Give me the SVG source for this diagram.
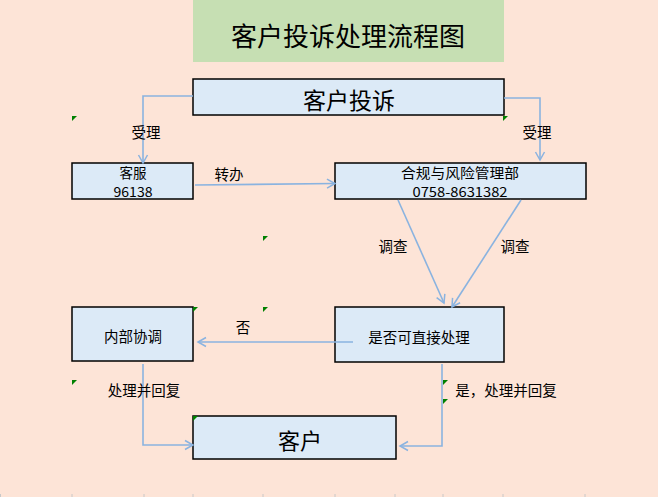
<svg xmlns="http://www.w3.org/2000/svg" width="658" height="497" viewBox="0 0 658 497">
<defs>
<style>
.box{fill:#DCEAF7;stroke:#000;stroke-width:1.5}
.t{font-family:"Noto Sans CJK SC","Liberation Sans",sans-serif;fill:#000;text-anchor:middle;dominant-baseline:central}
.c{fill:none;stroke:#8AB3E0;stroke-width:1.6}
.g{fill:#008000}
.tick{stroke:#C8C8C8;stroke-width:1}
</style>
<marker id="ar" markerUnits="userSpaceOnUse" markerWidth="12" markerHeight="12" viewBox="0 0 12 12" refX="10" refY="6" orient="auto">
<path d="M2,1.5 L10,6 L2,10.5" fill="none" stroke="#8AB3E0" stroke-width="1.5"/>
</marker>
</defs>
<rect width="658" height="497" fill="#FDE4D7"/>
<g id="ticks">
<line class="tick" x1="0.5" y1="494" x2="0.5" y2="497"/>
<line class="tick" x1="72" y1="494" x2="72" y2="497"/>
<line class="tick" x1="144" y1="494" x2="144" y2="497"/>
<line class="tick" x1="193" y1="494" x2="193" y2="497"/>
<line class="tick" x1="263" y1="494" x2="263" y2="497"/>
<line class="tick" x1="335" y1="494" x2="335" y2="497"/>
<line class="tick" x1="395" y1="494" x2="395" y2="497"/>
<line class="tick" x1="443" y1="494" x2="443" y2="497"/>
<line class="tick" x1="503" y1="494" x2="503" y2="497"/>
<line class="tick" x1="585" y1="494" x2="585" y2="497"/>
</g>
<g id="title">
<rect x="193" y="0" width="311" height="62" fill="#C6DFB3"/>
<text class="t" x="348" y="34" font-size="26">客户投诉处理流程图</text>
</g>
<g id="n-complaint">
<rect class="box" x="193" y="79" width="311" height="36"/>
<text class="t" x="349" y="99" font-size="23">客户投诉</text>
</g>
<g id="n-service">
<rect class="box" x="72" y="163" width="121" height="36"/>
<text class="t" x="133" y="172" font-size="13.5">客服</text>
<text class="t" x="133" y="191" font-size="13" textLength="39" lengthAdjust="spacingAndGlyphs">96138</text>
</g>
<g id="n-compliance">
<rect class="box" x="335" y="163" width="251" height="36"/>
<text class="t" x="460" y="172" font-size="13.5" textLength="118" lengthAdjust="spacingAndGlyphs">合规与风险管理部</text>
<text class="t" x="460" y="191" font-size="13" textLength="95" lengthAdjust="spacingAndGlyphs">0758-8631382</text>
</g>
<g id="n-decide">
<rect class="box" x="335" y="307" width="169" height="55"/>
<text class="t" x="419" y="336" font-size="14.5">是否可直接处理</text>
</g>
<g id="n-internal">
<rect class="box" x="72" y="307" width="121" height="54"/>
<text class="t" x="133" y="335" font-size="14.5">内部协调</text>
</g>
<g id="n-customer">
<rect class="box" x="193" y="416" width="203" height="43"/>
<text class="t" x="300" y="439" font-size="22">客户</text>
</g>
<g id="connectors">
<polyline class="c" points="193,96 143,96 143,163" marker-end="url(#ar)"/>
<polyline class="c" points="504,98 540,98 540,160" marker-end="url(#ar)"/>
<line class="c" x1="195" y1="185" x2="335" y2="183.5" marker-end="url(#ar)"/>
<line class="c" x1="398" y1="200" x2="444" y2="303" marker-end="url(#ar)"/>
<line class="c" x1="521" y1="200" x2="452" y2="307" marker-end="url(#ar)"/>
<line class="c" x1="353" y1="342" x2="198" y2="342" marker-end="url(#ar)"/>
<polyline class="c" points="143,364 143,445 193,445" marker-end="url(#ar)"/>
<polyline class="c" points="442,364 442,446 400,446" marker-end="url(#ar)"/>
<text class="t" x="146" y="131" font-size="14.5">受理</text>
<text class="t" x="537" y="131" font-size="14.5">受理</text>
<text class="t" x="229" y="173" font-size="14.5">转办</text>
<text class="t" x="393" y="245" font-size="14.5">调查</text>
<text class="t" x="515" y="245" font-size="14.5">调查</text>
<text class="t" x="243" y="326" font-size="14.5">否</text>
<text class="t" x="144" y="389" font-size="14.5">处理并回复</text>
<text class="t" x="506" y="389" font-size="14.5">是，处理并回复</text>
</g>
<g id="markers">
<polygon class="g" points="72,116 77,116 72,121"/>
<polygon class="g" points="503,116 508,116 503,121"/>
<polygon class="g" points="263,236 268,236 263,241"/>
<polygon class="g" points="193,307 198,307 193,312"/>
<polygon class="g" points="263,307 268,307 263,312"/>
<polygon class="g" points="72,380 77,380 72,385"/>
<polygon class="g" points="443,380 448,380 443,385"/>
<polygon class="g" points="443,399 448,399 443,404"/>
<polygon class="g" points="193,416 198,416 193,421"/>
</g>
</svg>
